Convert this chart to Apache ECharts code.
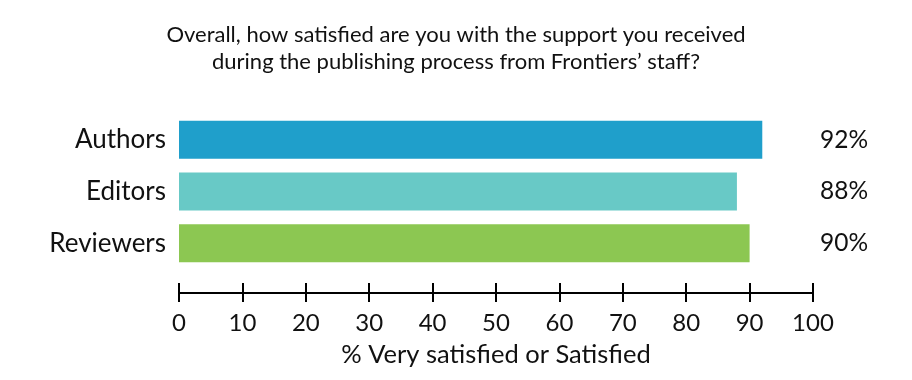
<!DOCTYPE html>
<html>
<head>
<meta charset="utf-8">
<script src="https://cdn.jsdelivr.net/npm/echarts@6/dist/echarts.min.js"></script>
<style>html,body{margin:0;padding:0;background:#fff;}#c{width:912px;height:380px;}</style>
</head>
<body>
<div id="c"></div>
<script>
var categories = ['Authors', 'Editors', 'Reviewers'];
var values = [92, 88, 90];
var xTicks = [0, 10, 20, 30, 40, 50, 60, 70, 80, 90, 100];
var barColors = ['#1f9fcb', '#68c9c6', '#8cc752'];
var titleText = 'Overall, how satisfied are you with the support you received\nduring the publishing process from Frontiers\u2019 staff?';
var xName = '% Very satisfied or Satisfied';

var FONT = 'Lato';
var chart = echarts.init(document.getElementById('c'), null, {renderer: 'canvas'});
var common = {
  type: 'value', min: xTicks[0], max: xTicks[xTicks.length - 1], interval: xTicks[1] - xTicks[0],
  position: 'bottom', offset: 24, splitLine: {show: false},
  axisLine: {show: true, lineStyle: {color: '#000', width: 2}}
};
chart.setOption({
  backgroundColor: '#fff',
  animation: false,
  title: {
    text: titleText, left: 'center', top: 16,
    textStyle: {fontFamily: FONT, fontSize: 22, fontWeight: 'normal', color: '#111', lineHeight: 27}
  },
  grid: {left: 179, right: 99, top: 114, bottom: 111, containLabel: false},
  xAxis: [
    Object.assign({}, common, {
      name: xName, nameLocation: 'middle', nameGap: 49,
      nameTextStyle: {fontFamily: FONT, fontSize: 25.5, color: '#111'},
      axisTick: {show: true, inside: false, length: 9, lineStyle: {color: '#000', width: 2}},
      axisLabel: {show: true, margin: 18, fontFamily: FONT, fontSize: 24, color: '#111'}
    }),
    Object.assign({}, common, {
      axisTick: {show: true, inside: true, length: 10, lineStyle: {color: '#000', width: 2}},
      axisLabel: {show: false}
    })
  ],
  yAxis: [
    {
      type: 'category', data: categories, inverse: true,
      axisLine: {show: false}, axisTick: {show: false},
      axisLabel: {margin: 13, fontFamily: FONT, fontSize: 26, color: '#111'}
    },
    {
      type: 'category', position: 'right', inverse: true,
      data: values.map(function (v) { return v + '%'; }),
      axisLine: {show: false}, axisTick: {show: false},
      axisLabel: {margin: 7, fontFamily: FONT, fontSize: 24.5, color: '#111'}
    }
  ],
  series: [{
    type: 'bar', xAxisIndex: 0, yAxisIndex: 0, barWidth: 38,
    data: values.map(function (v, i) { return {value: v, itemStyle: {color: barColors[i]}}; })
  }]
});
</script>
</body>
</html>
